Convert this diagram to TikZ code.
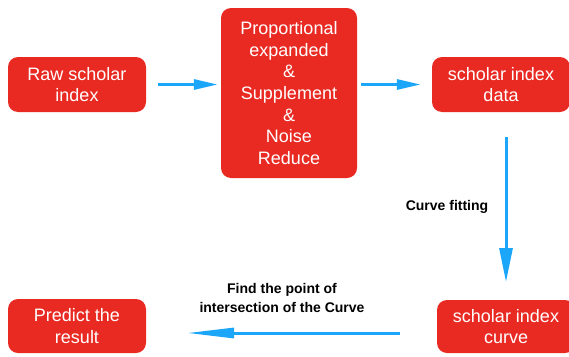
\documentclass[tikz,border=0pt]{standalone}
\usepackage{fontspec}
\setmainfont{Liberation Sans}
\usetikzlibrary{arrows.meta}
\definecolor{boxred}{RGB}{233,42,35}
\definecolor{arrblue}{RGB}{28,166,250}
\tikzset{
  procbox/.style={fill=boxred, draw=none, rounded corners=10pt, text=white,
    font=\fontsize{18}{21.7}\selectfont, align=center, inner sep=0pt},
  flow/.style={draw=arrblue, line width=3pt},
  lbl/.style={font=\fontsize{14}{19}\selectfont\bfseries, align=center, text=black}
}
\begin{document}
\begin{tikzpicture}[x=1pt,y=-1pt]
\useasboundingbox (0,0) rectangle (569,356);
\node[procbox, minimum width=138pt, minimum height=55pt] (raw) at (77,84.5) {Raw scholar\\index};
\node[procbox, minimum width=136pt, minimum height=170pt] (mid) at (289,93) {Proportional\\expanded\\\&\\Supplement\\\&\\Noise\\Reduce};
\node[procbox, minimum width=138pt, minimum height=55pt] (data) at (501,84.5) {scholar index\\data};
\node[procbox, minimum width=138pt, minimum height=53pt] (curve) at (506,326.5) {scholar index\\curve};
\node[procbox, minimum width=138pt, minimum height=54pt] (pred) at (77,326) {Predict the\\result};
\node[lbl] (cf) at (447,207) {Curve fitting};
\node[lbl] (fp) at (282,297.5) {Find the point of\\intersection of the Curve};
\coordinate (c1) at (400,333);
\coordinate (c2) at (187,333);
\coordinate (v1) at (506,137);
\coordinate (v2) at (506,282);
\draw[flow, -{Triangle[length=24pt,width=10pt]}, shorten <=12pt, shorten >=3pt] (raw.east) -- (raw.east -| mid.west);
\draw[flow, -{Triangle[length=24pt,width=10pt]}, shorten <=4pt, shorten >=11pt] (mid.east |- data.west) -- (data.west);
\draw[flow, -{Triangle[length=34pt,width=13pt]}] (v1) -- (v2);
\draw[flow, -{Triangle[length=47pt,width=10pt]}] (c1) -- (c2);
\end{tikzpicture}
\end{document}
